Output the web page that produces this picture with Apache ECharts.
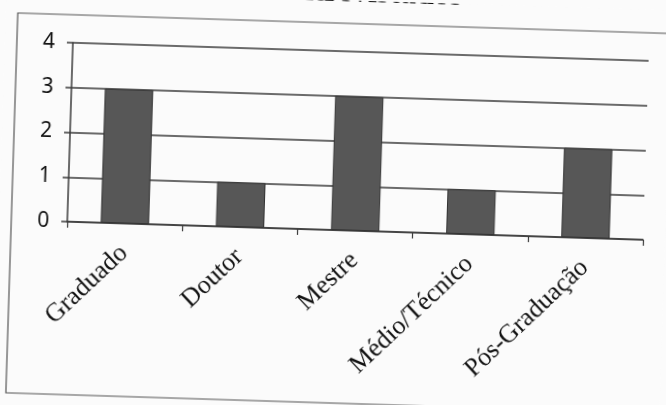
<!DOCTYPE html>
<html>
<head>
<meta charset="utf-8">
<script src="https://cdn.jsdelivr.net/npm/echarts@6/dist/echarts.min.js"></script>
<style>
  html, body { margin: 0; padding: 0; background: #fbfbfb; overflow: hidden; }
  #chart { width: 666px; height: 405px; transform: rotate(1.8deg); transform-origin: 50% 50%; }
</style>
</head>
<body>
<div id="chart"></div>
<script>
const titleText = "Entrevistados";
const categories = ["Graduado", "Doutor", "Mestre", "Médio/Técnico", "Pós-Graduação"];
const values = [3, 1, 3, 1, 2];
const yTicks = [0, 1, 2, 3, 4];

const chart = echarts.init(document.getElementById("chart"));

const lineColor = "#3a3a3a";

const option = {
  backgroundColor: "#fbfbfb",
  animation: false,
  graphic: [
    {
      // moldura do gráfico (lado direito fica fora da imagem)
      type: "rect",
      shape: { x: 12, y: 23, width: 700, height: 380 },
      style: { fill: "none", stroke: "#555", lineWidth: 1.2 },
      z: 0,
    },
    {
      type: "text",
      style: {
        text: titleText,
        x: 362,
        y: 9,
        align: "center",
        verticalAlign: "bottom",
        font: "bold 32px 'Liberation Serif'",
        fill: "#111",
      },
    },
  ],
  grid: { left: 68, right: 22, top: 51, bottom: 175, containLabel: false },
  xAxis: {
    type: "category",
    data: categories,
    axisLine: { lineStyle: { color: lineColor, width: 1.5 } },
    axisTick: { show: true, length: 6, lineStyle: { color: lineColor, width: 1.2 } },
    axisLabel: {
      rotate: 45,
      margin: 26,
      fontFamily: "Liberation Serif",
      fontSize: 26,
      color: "#111",
    },
  },
  yAxis: {
    type: "value",
    min: yTicks[0],
    max: yTicks[yTicks.length - 1],
    interval: 1,
    axisLine: { show: true, lineStyle: { color: lineColor, width: 1.5 } },
    axisTick: { show: true, length: 6, lineStyle: { color: lineColor, width: 1.5 } },
    splitLine: { lineStyle: { color: lineColor, width: 1.5 } },
    axisLabel: {
      margin: 18,
      fontFamily: "Noto Sans",
      fontSize: 21,
      color: "#111",
    },
  },
  series: [
    {
      type: "bar",
      data: values,
      barWidth: "42%",
      itemStyle: { color: "#575757", borderColor: "#333", borderWidth: 1 },
    },
  ],
};

chart.setOption(option);
</script>
</body>
</html>
